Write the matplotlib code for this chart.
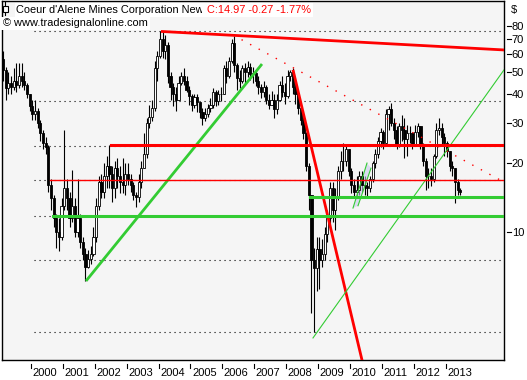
#=========================#
#  module                 #
#=========================#
import numpy as np
import matplotlib
matplotlib.use('Agg')
import matplotlib.pyplot as plt
from matplotlib.lines import Line2D
from matplotlib.patches import Rectangle, Polygon

plt.rcParams['font.family'] = ['Liberation Sans', 'DejaVu Sans']

#=========================#
#  data (monthly OHLC)    #
#=========================#
# bars from Feb 1999 to Jun 2013, open = previous close
first_year, first_month = 1999, 2
first_open = 57.0

closes = [
    51, 42.5, 45, 43, 46, 44, 48, 46, 44, 40, 35.5,                       # 1999
    33, 34, 30, 27, 24.5, 23.5, 16, 14, 11.5, 10, 9.5, 13,                # 2000
    15.5, 14, 11.5, 13, 10, 11.5, 9, 8, 7, 7.6, 8, 9.5,                   # 2001
    13, 16.5, 15, 17.5, 19.5, 18, 15.5, 19, 17.5, 16.5, 16, 18,           # 2002
    17, 16, 14.5, 14.2, 16.5, 19, 22, 30, 32, 35, 52, 59,                 # 2003
    70, 62, 66, 48, 43, 40, 38, 45, 48, 46, 42, 39.5,                     # 2004
    36, 39, 37, 33.5, 31.5, 33, 35, 36, 41, 37.5, 40, 40,                 # 2005
    52, 48, 56, 67, 54, 47, 46, 52, 50, 53, 49, 49.5,                     # 2006
    46, 43, 41, 43, 38, 36, 38, 34.5, 38, 44, 41, 39.5,                   # 2007
    48, 50, 43, 40, 35, 31, 27, 19.5, 14.5, 7.5, 6.9, 8.4,                # 2008
    7.5, 8, 9.8, 11.5, 15.5, 12.5, 14, 18.5, 20.5, 20.5, 23, 18.5,        # 2009
    16, 15, 15.2, 17.5, 16, 15.8, 15.5, 17, 20, 22, 25, 27.3,             # 2010
    24.5, 33, 34.5, 30, 28, 24.2, 29, 28, 25.5, 27, 27, 24.2,             # 2011
    27.5, 29, 24, 20.5, 17.5, 17.5, 17, 21.5, 28, 28.5, 26, 24.5,         # 2012
    22.5, 19.5, 19, 16.5, 15.3, 14.97,                                    # 2013
]
highs = [
    62, 53, 50, 48, 52, 55, 55, 55, 50, 45, 40,
    37.7, 38, 35, 31, 28, 26, 24, 17, 14.5, 12, 11.5, 14,
    28, 17, 15, 18.6, 14, 17, 12, 9.5, 8.5, 8.3, 8.7, 10.5,
    14, 17.5, 18, 20, 21.5, 24, 19.5, 20.5, 21, 19.5, 21, 20,
    20, 18, 16.5, 15, 18, 20.5, 27, 31.5, 36, 38, 56, 62,
    76, 75, 73, 68, 50, 45, 43, 48, 50, 52, 48, 43.5,
    40, 40, 40, 37, 35, 35, 36.5, 38.5, 42.5, 42, 42, 43,
    54, 56, 58.5, 70, 72, 55, 51, 54, 55, 56, 55, 53,
    51, 48, 44.5, 46, 44, 40, 41.5, 40, 40, 46, 48, 45,
    51, 51, 52, 45, 40, 36, 32, 27.5, 20, 14.5, 8.5, 9.5,
    9.5, 9.3, 10.5, 12.5, 16.5, 16.5, 15.5, 19.5, 22.5, 24.5, 24, 23,
    19, 17, 17.5, 18.5, 18.5, 17.5, 16.5, 17.5, 20.5, 23, 26, 28.5,
    28, 34.5, 35.5, 36.8, 31.5, 29, 30, 32.5, 31.5, 29.5, 29, 27.5,
    29.3, 30, 29, 24.5, 21, 19, 19, 22, 30, 31.5, 30, 27,
    25, 22.5, 20.5, 19, 17, 15.5,
]
lows = [
    46, 37.7, 40, 40, 41.7, 41, 42.5, 43, 41.7, 38.5, 34,
    31, 31, 28.5, 25, 23, 22, 15, 12.5, 10.5, 8.5, 8.2, 9.2,
    12.5, 12.5, 10.5, 11, 9.5, 9.5, 8.5, 7.5, 6.1, 6.9, 7.2, 7.8,
    9, 12.5, 14, 14, 15.5, 15.5, 13.5, 14, 15.5, 14.8, 14.8, 14.5,
    16, 15, 13.8, 12.8, 13.5, 15.5, 19, 21, 28.5, 30.5, 34, 46,
    58, 58, 57, 45, 38, 35.5, 34, 37.7, 44, 44, 41, 36,
    34, 35, 33.5, 31.5, 29.3, 30.5, 32, 33.5, 35, 35.5, 36, 37.5,
    40, 45, 47, 55, 50, 42, 42.5, 45, 45, 47.5, 46.5, 45,
    43.5, 40, 38.5, 39, 36.5, 34.5, 36, 31.5, 33, 37.5, 39, 36.5,
    38.5, 46, 40, 36.5, 33, 29.5, 25.5, 18.5, 12.5, 4.4, 3.65, 5.5,
    5.6, 7, 7.5, 9, 10.2, 11, 10.2, 13.8, 17, 18.5, 19.5, 17.5,
    14.8, 14.3, 14.2, 14.5, 15, 14.5, 14.3, 15, 16.5, 19, 21, 23.5,
    23, 24, 28, 29, 25.5, 23, 23.5, 25, 21, 21.5, 24.5, 23,
    24, 26, 23, 19.5, 15.2, 15.5, 15.8, 16.5, 21, 26.5, 24, 21.5,
    21.2, 18.5, 17.5, 13.4, 14.5, 14.5,
]

# drawn objects: (start year, start price, end year, end price)
red_thick_lines = [(2004.075, 75.6, 2014.83, 62.7),
                   (2008.213, 51.3, 2010.63, 1.94)]
red_dotted_lines = [(2006.332, 72.9, 2014.83, 16.5)]
green_thick_lines = [(2001.724, 6.08, 2007.241, 54.4)]
green_thin_lines = [(2008.840, 3.42, 2014.83, 51.3),
                    (2010.094, 12.7, 2010.533, 20.0),
                    (2010.251, 13.0, 2010.658, 19.0)]
# horizontal levels: (start year, price)
red_thick_levels = [(2002.508, 23.9)]
red_thin_levels = [(2000.596, 16.9)]
green_thick_levels = [(2008.746, 14.2), (2000.690, 11.7)]
dotted_levels = [76.3, 37.4, 23.8, 16.9, 11.7, 7.51, 3.65]

years = list(range(2000, 2014))
price_ticks = [10, 20, 30, 40, 50, 60, 70, 80]

title_name = "Coeur d'Alene Mines Corporation New"
title_quote = ' C:14.97 -0.27 -1.77%'
copyright_text = '\u00a9 www.tradesignalonline.com'

#=========================#
#  prepare                #
#=========================#
closes = np.array(closes, dtype=float)
highs = np.array(highs, dtype=float)
lows = np.array(lows, dtype=float)
opens = np.r_[first_open, closes[:-1]]
n_bar = len(closes)
dates = first_year + (np.arange(n_bar) + first_month - 1 + 0.5) / 12.0

W_px, H_px = 527, 380
x0_px, x1_px, y0_px, y1_px = 1.5, 504.0, 1.0, 359.5

#=========================#
#  figure                 #
#=========================#
fig = plt.figure(figsize=(W_px / 100, H_px / 100), dpi=100, facecolor='white')
ax = fig.add_axes([x0_px / W_px, 1 - y1_px / H_px, (x1_px - x0_px) / W_px, (y1_px - y0_px) / H_px],
                  facecolor='#f5f5f5')
ax.set_yscale('log')
ax.set_xlim(1999.075, 2014.828)
ax.set_ylim(2.751, 102.8)

# dotted levels
for lv in dotted_levels:
    ax.plot([2000.094, 2014.83], [lv, lv], c='k', lw=0.8, ls=(0, (1, 3.5)), zorder=1)

# candles
up = closes >= opens
ax.vlines(dates, lows, highs, color='k', lw=0.8, zorder=2)
body_lo = np.minimum(opens, closes)
body_hi = np.maximum(opens, closes)
ax.bar(dates, body_hi - body_lo, bottom=body_lo, width=0.068,
       color=np.where(up, 'white', 'black'), edgecolor='k', linewidth=0.6, zorder=3)

# small flag pattern
flag = Polygon([(2010.094, 12.7), (2010.533, 20.0), (2010.658, 19.0), (2010.251, 13.0)],
               closed=True, facecolor='#c8c8ee', edgecolor='none', alpha=0.6, zorder=2.5)
ax.add_patch(flag)

# trend lines
for (xa, ya, xb, yb) in red_thick_lines:
    ax.plot([xa, xb], [ya, yb], c='#ff0000', lw=2.0, zorder=5, solid_capstyle='butt')
for (xa, ya, xb, yb) in red_dotted_lines:
    ax.plot([xa, xb], [ya, yb], c='#ff0000', lw=1.0, ls=(0, (1, 6)), zorder=5)
for (xa, ya, xb, yb) in green_thick_lines:
    ax.plot([xa, xb], [ya, yb], c='#33cc33', lw=2.0, zorder=5, solid_capstyle='butt')
for (xa, ya, xb, yb) in green_thin_lines:
    ax.plot([xa, xb], [ya, yb], c='#33cc33', lw=0.8, zorder=5)

# horizontal levels
for (xa, lv) in red_thick_levels:
    ax.plot([xa, 2014.83], [lv, lv], c='#ff0000', lw=2.2, zorder=5)
for (xa, lv) in red_thin_levels:
    ax.plot([xa, 2014.83], [lv, lv], c='#ff0000', lw=1.0, zorder=5)
for (xa, lv) in green_thick_levels:
    ax.plot([xa, 2014.83], [lv, lv], c='#33cc33', lw=2.2, zorder=5)

# spines
for sp in ax.spines.values():
    sp.set_color('k')
    sp.set_linewidth(1.0)

#=========================#
#  axes ticks             #
#=========================#
ax.set_xticks([])
ax.minorticks_off()
ax.yaxis.set_minor_locator(matplotlib.ticker.NullLocator())
ax.yaxis.tick_right()
ax.set_yticks(price_ticks)
ax.set_yticklabels([str(v) for v in price_ticks])
ax.tick_params(axis='y', which='major', length=0, pad=5.6, labelsize=8, colors='k')

h_ax = y1_px - y0_px
w_ax = x1_px - x0_px
xtr = ax.get_xaxis_transform()
for yr in years:
    ax.add_line(Line2D([yr, yr], [-4.5 / h_ax, -8.0 / h_ax], transform=xtr,
                       c='k', lw=0.8, clip_on=False))
    ax.text(yr + 1.5 / 31.9, -13.0 / h_ax, str(yr), transform=xtr, ha='left', va='center',
            fontsize=8, color='k', clip_on=False)

ytr = ax.get_yaxis_transform()
for v in price_ticks:
    ax.add_line(Line2D([1 + 3.3 / w_ax, 1 + 6.8 / w_ax], [v, v], transform=ytr,
                       c='k', lw=0.8, clip_on=False))

fig.text(510.5 / W_px, 1 - 9.5 / H_px, '$', fontsize=8, color='k', ha='left', va='center')

#=========================#
#  title                  #
#=========================#
t1 = fig.text(16.5 / W_px, 1 - 10.0 / H_px, title_name, fontsize=7.9, color='k',
              ha='left', va='center', zorder=10,
              bbox=dict(facecolor='white', edgecolor='none', pad=1.2))
fig.canvas.draw()
bb = t1.get_window_extent(renderer=fig.canvas.get_renderer())
fig.text(bb.x1 / W_px, 1 - 10.0 / H_px, title_quote, fontsize=7.9, color='#ff0000',
         ha='left', va='center', zorder=10,
         bbox=dict(facecolor='white', edgecolor='none', pad=1.2))
fig.text(3.0 / W_px, 1 - 23.5 / H_px, copyright_text, fontsize=7.9, color='k',
         ha='left', va='center', zorder=10,
         bbox=dict(facecolor='white', edgecolor='none', pad=1.2))

# small chart icon
fig.add_artist(Line2D([5.0 / W_px, 5.0 / W_px], [1 - 2.0 / H_px, 1 - 15.0 / H_px],
                      transform=fig.transFigure, c='k', lw=0.8, zorder=11))
fig.add_artist(Rectangle((3.0 / W_px, 1 - 12.0 / H_px), 4.5 / W_px, 6.0 / H_px,
                         transform=fig.transFigure, facecolor='white', edgecolor='k',
                         lw=0.8, zorder=12))

# save
fig.savefig('out.png', dpi=100, facecolor='white')
plt.close()
